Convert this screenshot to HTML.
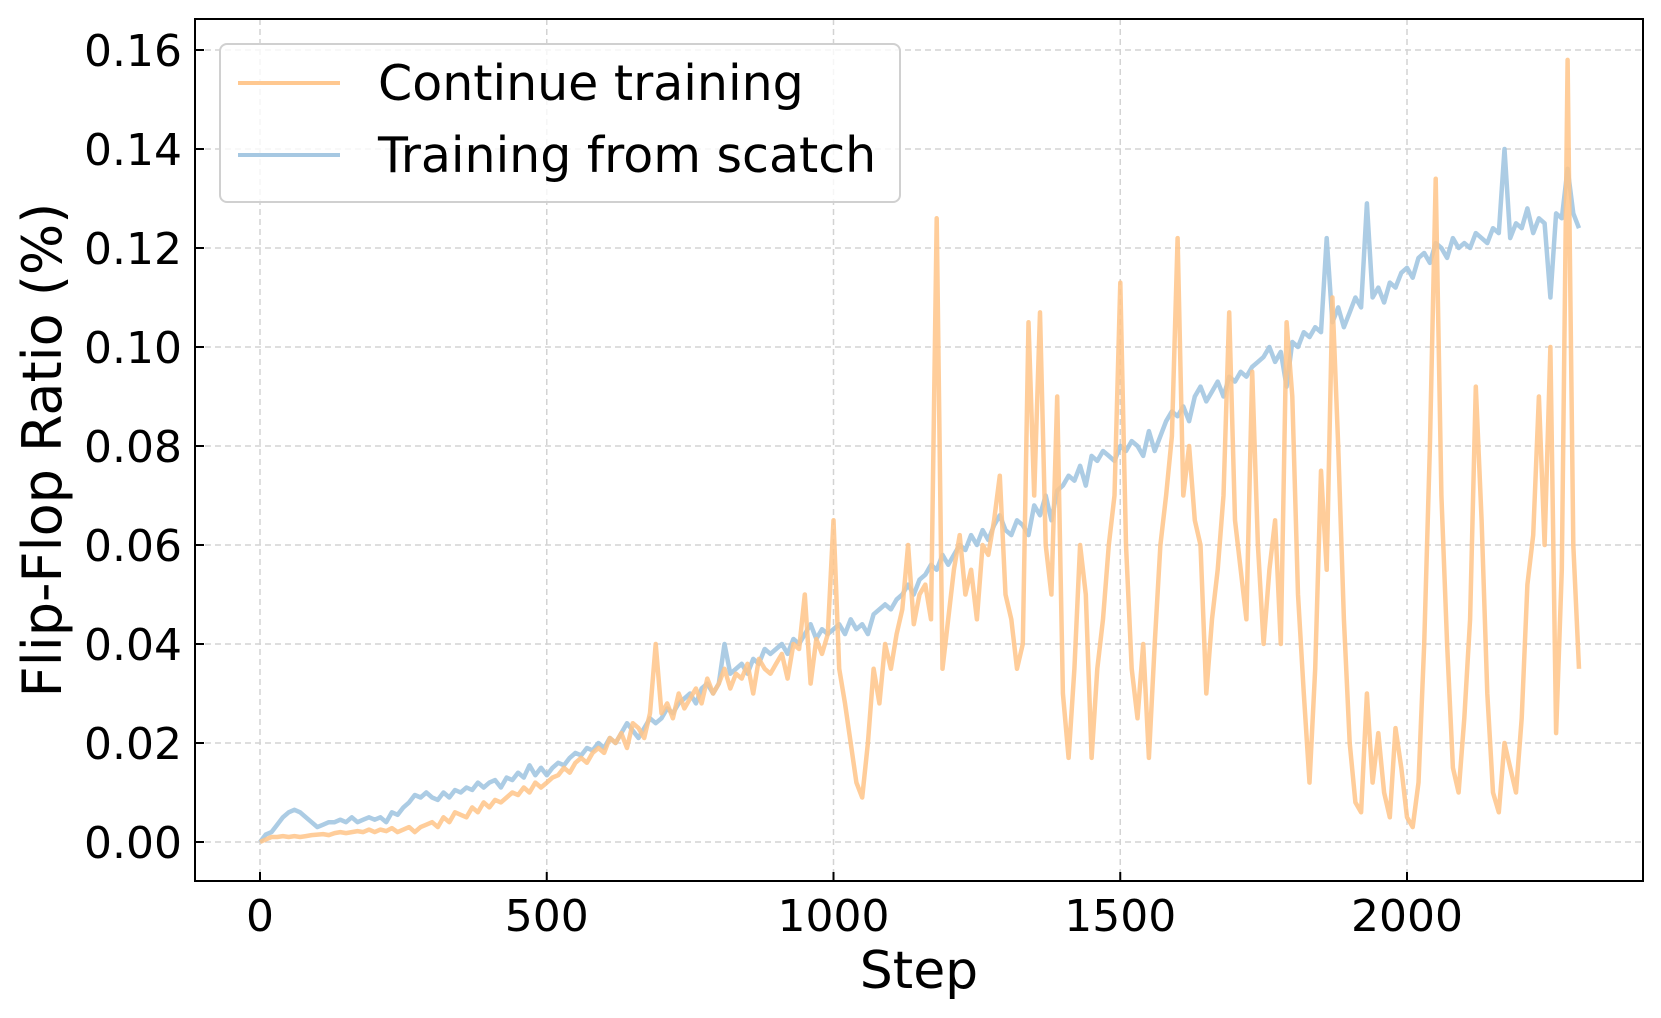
<!DOCTYPE html>
<html><head><meta charset="utf-8">
<style>
html,body{margin:0;padding:0;background:#fff;}
svg{display:block;font-family:"DejaVu Sans","Liberation Sans",sans-serif;}
</style></head>
<body>
<svg id="chart" width="1661" height="1018" viewBox="0 0 1661 1018" xmlns="http://www.w3.org/2000/svg">
<g id="grid"></g>
<g id="series"></g>
<rect x="195" y="19" width="1448" height="862" fill="none" stroke="#000" stroke-width="2"/>
<g id="ticks"></g>
<text x="919" y="988" font-size="52" text-anchor="middle">Step</text>
<text transform="translate(61,450) rotate(-90)" font-size="54" text-anchor="middle">Flip-Flop Ratio (%)</text>
<g>
<rect x="220" y="44" width="680" height="158" rx="7" fill="#fff" fill-opacity="0.8" stroke="#d0d0d0" stroke-width="2"/>
<line x1="238" y1="83" x2="340" y2="83" stroke="#ffc890" stroke-width="4"/>
<text x="378" y="100" font-size="49">Continue training</text>
<line x1="238" y1="155" x2="340" y2="155" stroke="#a6c8e2" stroke-width="4"/>
<text x="378" y="172" font-size="49">Training from scatch</text>
</g>
</svg>
<script>
const stepStart = 0;
const stepInterval = 10;
const xTicks = [0, 500, 1000, 1500, 2000];
const yTicks = [0, 0.02, 0.04, 0.06, 0.08, 0.10, 0.12, 0.14, 0.16];
const yTickLabels = ["0.00","0.02","0.04","0.06","0.08","0.10","0.12","0.14","0.16"];
const scratchValues = [
0,0.0015,0.002,0.0035,0.005,0.006,0.0065,0.006,0.005,0.004,
0.003,0.0035,0.004,0.004,0.0045,0.004,0.005,0.004,0.0045,0.005,
0.0045,0.005,0.004,0.006,0.0055,0.007,0.008,0.0095,0.009,0.01,
0.009,0.0085,0.01,0.009,0.0105,0.01,0.011,0.0105,0.012,0.011,
0.012,0.0125,0.011,0.013,0.0125,0.014,0.013,0.0155,0.0135,0.015,
0.0135,0.015,0.016,0.0155,0.017,0.018,0.0175,0.019,0.0185,0.02,
0.019,0.021,0.02,0.022,0.024,0.0225,0.021,0.023,0.025,0.024,
0.025,0.027,0.026,0.028,0.029,0.03,0.028,0.031,0.032,0.03,
0.032,0.04,0.034,0.035,0.036,0.034,0.037,0.036,0.039,0.038,
0.039,0.04,0.038,0.041,0.04,0.042,0.044,0.041,0.043,0.042,
0.043,0.044,0.042,0.045,0.043,0.044,0.042,0.046,0.047,0.048,
0.047,0.049,0.05,0.052,0.05,0.053,0.054,0.056,0.055,0.058,
0.056,0.058,0.06,0.059,0.062,0.06,0.063,0.061,0.064,0.066,
0.063,0.062,0.065,0.064,0.062,0.068,0.066,0.07,0.065,0.071,
0.072,0.074,0.073,0.076,0.072,0.078,0.077,0.079,0.078,0.077,
0.08,0.079,0.081,0.08,0.078,0.083,0.079,0.082,0.085,0.087,
0.086,0.088,0.085,0.09,0.092,0.089,0.091,0.093,0.09,0.094,
0.093,0.095,0.094,0.096,0.097,0.098,0.1,0.097,0.099,0.092,
0.101,0.1,0.103,0.102,0.104,0.103,0.122,0.105,0.108,0.104,
0.107,0.11,0.108,0.129,0.11,0.112,0.109,0.113,0.112,0.115,
0.116,0.114,0.118,0.119,0.117,0.121,0.12,0.118,0.122,0.12,
0.121,0.12,0.123,0.122,0.121,0.124,0.123,0.14,0.122,0.125,
0.124,0.128,0.123,0.126,0.125,0.11,0.127,0.126,0.136,0.127,
0.124];
const continueValues = [
0,0.0005,0.001,0.001,0.0012,0.001,0.0012,0.001,0.0012,0.0014,
0.0015,0.0016,0.0014,0.0018,0.002,0.0018,0.002,0.0022,0.002,0.0025,
0.002,0.0025,0.0022,0.0028,0.002,0.0025,0.003,0.002,0.003,0.0035,
0.004,0.003,0.005,0.004,0.006,0.0055,0.005,0.007,0.006,0.008,
0.007,0.0085,0.008,0.009,0.01,0.0095,0.011,0.01,0.012,0.011,
0.012,0.013,0.0135,0.015,0.014,0.016,0.017,0.016,0.018,0.019,
0.018,0.021,0.02,0.022,0.019,0.024,0.023,0.021,0.026,0.04,
0.026,0.028,0.025,0.03,0.027,0.029,0.031,0.028,0.033,0.03,
0.032,0.035,0.031,0.034,0.033,0.036,0.03,0.037,0.035,0.034,
0.036,0.038,0.033,0.04,0.039,0.05,0.032,0.041,0.038,0.042,
0.065,0.035,0.028,0.02,0.012,0.009,0.02,0.035,0.028,0.04,
0.035,0.042,0.047,0.06,0.044,0.05,0.052,0.045,0.126,0.035,
0.045,0.055,0.062,0.05,0.055,0.045,0.06,0.058,0.065,0.074,
0.05,0.045,0.035,0.04,0.105,0.07,0.107,0.06,0.05,0.09,
0.03,0.017,0.035,0.06,0.05,0.017,0.035,0.045,0.06,0.07,
0.113,0.06,0.035,0.025,0.04,0.017,0.04,0.06,0.07,0.082,
0.122,0.07,0.08,0.065,0.06,0.03,0.045,0.055,0.07,0.107,
0.065,0.055,0.045,0.095,0.06,0.04,0.055,0.065,0.04,0.105,
0.09,0.05,0.03,0.012,0.035,0.075,0.055,0.11,0.08,0.045,
0.02,0.008,0.006,0.03,0.012,0.022,0.01,0.005,0.023,0.015,
0.005,0.003,0.012,0.04,0.08,0.134,0.07,0.04,0.015,0.01,
0.025,0.045,0.092,0.065,0.03,0.01,0.006,0.02,0.015,0.01,
0.025,0.052,0.062,0.09,0.06,0.1,0.022,0.055,0.158,0.06,
0.035];

const NS = "http://www.w3.org/2000/svg";
const PL = 195, PR = 1643, PT = 19, PB = 881;
function xScale(v){ return 260 + (v - 0) * (1407 - 260) / 2000; }
function yScale(v){ return 842 - v * (842 - 50) / 0.16; }
function mk(tag, attrs, parent){
  const e = document.createElementNS(NS, tag);
  for (const k in attrs) e.setAttribute(k, attrs[k]);
  parent.appendChild(e);
  return e;
}
const grid = document.getElementById('grid');
const ticks = document.getElementById('ticks');
const series = document.getElementById('series');

xTicks.forEach(t => {
  const x = xScale(t);
  const g = mk('line', {x1:x, y1:PT, x2:x, y2:PB, stroke:'#d3d3d3', 'stroke-width':1.5, 'stroke-dasharray':'6,4'}, grid);
  
  
  const tk = mk('line', {x1:x, y1:PB, x2:x, y2:PB-9, stroke:'#000', 'stroke-width':2}, ticks);
  
  
  const lb = mk('text', {x:x, y:931, 'font-size':44, 'text-anchor':'middle'}, ticks);
  lb.textContent = String(t);
  
  
});
yTicks.forEach((t, i) => {
  const y = yScale(t);
  const g = mk('line', {x1:PL, y1:y, x2:PR, y2:y, stroke:'#d3d3d3', 'stroke-width':1.5, 'stroke-dasharray':'6,4'}, grid);
  
  
  const tk = mk('line', {x1:PL, y1:y, x2:PL+9, y2:y, stroke:'#000', 'stroke-width':2}, ticks);
  
  
  const lb = mk('text', {x:182, y:y+16, 'font-size':44, 'text-anchor':'end'}, ticks);
  lb.textContent = yTickLabels[i];
  
  
});
function drawLine(vals, color, name){
  const pts = vals.map((v, i) => xScale(stepStart + i * stepInterval).toFixed(1) + ',' + yScale(v).toFixed(1)).join(' ');
  const p = mk('polyline', {points:pts, fill:'none', stroke:color, 'stroke-width':4.5, 'stroke-linejoin':'round', 'stroke-opacity':0.85}, series);
  
  
}
drawLine(scratchValues, '#9ec3df', 'scratch-line');
drawLine(continueValues, '#ffc488', 'continue-line');
</script>
</body></html>
